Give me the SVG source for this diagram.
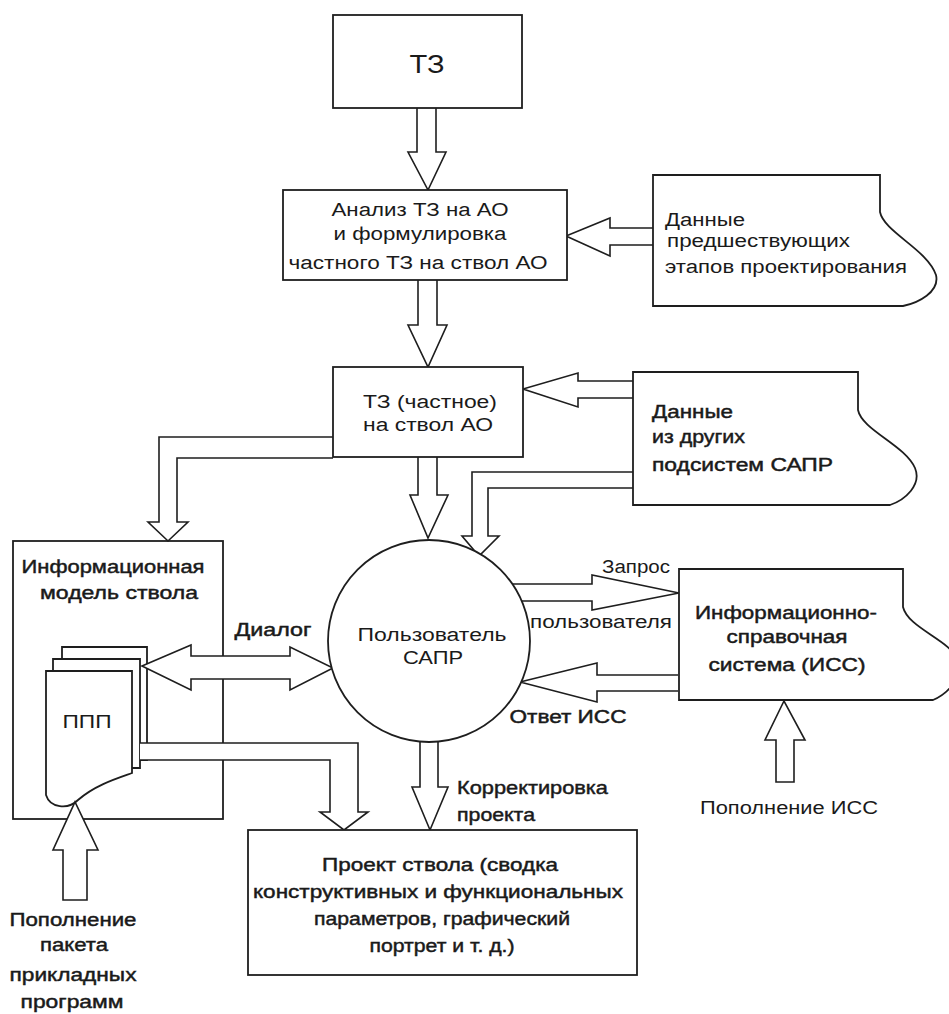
<svg xmlns="http://www.w3.org/2000/svg" width="949" height="1014" viewBox="0 0 949 1014">
<style>
.box{fill:#fff;stroke:#1e1e1e;stroke-width:1.8}
.ar{fill:#fff;stroke:#1e1e1e;stroke-width:1.6;stroke-linejoin:miter}
text{font-family:"Liberation Sans",Arial,sans-serif;font-size:18px;fill:#1a1a1a}
.c{text-anchor:middle}
.b{stroke:#1a1a1a;stroke-width:0.45}
</style>
<rect width="949" height="1014" fill="#fff"/>

<g id="info-model">
<rect class="box" x="13" y="541" width="210" height="278"/>
<text class="c b" x="113" y="573" textLength="183" lengthAdjust="spacingAndGlyphs">Информационная</text>
<text class="c b" x="119" y="599" textLength="158" lengthAdjust="spacingAndGlyphs">модель ствола</text>
</g>

<g id="ppp">
<path class="box" d="M62,659 V647 H147 V760 H140"/>
<path class="box" d="M53,671 V659 H140 V768 H132"/>
<path class="box" d="M46,671 H132 V773 C118,778 95,785 78,800 C68,810 50,808 46,795 Z"/>
<text class="c" x="87" y="728" textLength="49" lengthAdjust="spacingAndGlyphs">ППП</text>
</g>

<g id="connectors">
<path class="ar" d="M417,108 V152 H408 L428,190 L446,152 H436 V108"/>
<path class="ar" d="M418,280 V325 H408 L428,367 L447,325 H437 V280"/>
<path class="ar" d="M418,457 V495 H410 L428,538 L448,495 H437 V457"/>
<path class="ar" d="M654,228 H610 V218 L566,236 L610,256 V245 H654"/>
<path class="ar" d="M633,381 H578 V373 L523,389 L578,407 V398 H633"/>
<path class="ar" d="M333,437 H159 V522 H148 L168,541 L188,522 H177 V458 H333"/>
<path class="ar" d="M633,472 H472 V536 H462 L479,556 L499,536 H488 V488 H633"/>
<path class="ar" d="M142,666 L191,645 V656 H290 V647 L333,668 L290,690 V679 H191 V690 Z"/>
<path class="ar" d="M140,743 H358 V812 H368 L344,830 L320,812 H330 V760 H140"/>
<path class="ar" d="M500,584 H592 V575 L679,593 L592,610 V601 H500"/>
<path class="ar" d="M678,675 H597 V663 L520,682 L597,702 V691 H678"/>
<path class="ar" d="M420,720 V787 H412 L430,830 L448,787 H438 V720"/>
<path class="ar" d="M776,782 V740 H765 L784,701 L805,740 H794 V782 Z"/>
<path class="ar" d="M63,900 V850 H53 L75,802 L98,850 H87 V900 Z"/>
<text class="c b" x="273" y="636" textLength="77" lengthAdjust="spacingAndGlyphs">Диалог</text>
<text class="c" x="636" y="573" textLength="68" lengthAdjust="spacingAndGlyphs">Запрос</text>
<text class="c" x="601" y="628" textLength="142" lengthAdjust="spacingAndGlyphs">пользователя</text>
<text class="c b" x="568" y="723" textLength="117" lengthAdjust="spacingAndGlyphs">Ответ ИСС</text>
<text class="b" x="457" y="794" textLength="151" lengthAdjust="spacingAndGlyphs">Корректировка</text>
<text class="b" x="457" y="821" textLength="78" lengthAdjust="spacingAndGlyphs">проекта</text>
<text class="c" x="789" y="814" textLength="178" lengthAdjust="spacingAndGlyphs">Пополнение ИСС</text>
<text class="c b" x="73" y="926" textLength="127" lengthAdjust="spacingAndGlyphs">Пополнение</text>
<text class="c b" x="74" y="951" textLength="68" lengthAdjust="spacingAndGlyphs">пакета</text>
<text class="c b" x="73" y="981" textLength="127" lengthAdjust="spacingAndGlyphs">прикладных</text>
<text class="c b" x="72" y="1008" textLength="103" lengthAdjust="spacingAndGlyphs">программ</text>
</g>

<g id="tz">
<rect class="box" x="333" y="15" width="189" height="93"/>
<text class="c" x="427" y="73" style="font-size:25px" textLength="35" lengthAdjust="spacingAndGlyphs">ТЗ</text>
</g>

<g id="analysis">
<rect class="box" x="283" y="190" width="284" height="90"/>
<text class="c" x="420" y="216" textLength="177" lengthAdjust="spacingAndGlyphs">Анализ ТЗ на АО</text>
<text class="c" x="420" y="240" textLength="173" lengthAdjust="spacingAndGlyphs">и формулировка</text>
<text class="c" x="418" y="269" textLength="259" lengthAdjust="spacingAndGlyphs">частного ТЗ на ствол АО</text>
</g>

<g id="prev-data">
<path class="box" d="M653,175 H880 V212 C884,232 928,250 936,275 C940,292 918,303 903,306 H653 Z"/>
<text x="665" y="226" textLength="80" lengthAdjust="spacingAndGlyphs">Данные</text>
<text x="667" y="247" textLength="183" lengthAdjust="spacingAndGlyphs">предшествующих</text>
<text x="665" y="273" textLength="242" lengthAdjust="spacingAndGlyphs">этапов проектирования</text>
</g>

<g id="tz-partial">
<rect class="box" x="333" y="367" width="190" height="90"/>
<text class="c" x="430" y="408" textLength="134" lengthAdjust="spacingAndGlyphs">ТЗ (частное)</text>
<text class="c" x="428" y="431" textLength="130" lengthAdjust="spacingAndGlyphs">на ствол АО</text>
</g>

<g id="other-data">
<path class="box" d="M633,372 H858 V410 C862,430 905,445 915,468 C922,485 905,500 890,505 H633 Z"/>
<text class="b" x="652" y="418" textLength="81" lengthAdjust="spacingAndGlyphs">Данные</text>
<text class="b" x="652" y="443" textLength="93" lengthAdjust="spacingAndGlyphs">из других</text>
<text class="b" x="652" y="471" textLength="181" lengthAdjust="spacingAndGlyphs">подсистем САПР</text>
</g>

<g id="user">
<circle class="box" cx="429" cy="641" r="101"/>
<text class="c" x="432" y="641" textLength="149" lengthAdjust="spacingAndGlyphs">Пользователь</text>
<text class="c" x="433" y="664" textLength="60" lengthAdjust="spacingAndGlyphs">САПР</text>
</g>

<g id="iss">
<path class="box" d="M679,569 H903 V607 C908,628 950,640 958,660 C963,680 945,695 933,700 H679 Z"/>
<text class="c b" x="786" y="619" textLength="182" lengthAdjust="spacingAndGlyphs">Информационно-</text>
<text class="c b" x="787" y="643" textLength="121" lengthAdjust="spacingAndGlyphs">справочная</text>
<text class="c b" x="787" y="671" textLength="157" lengthAdjust="spacingAndGlyphs">система (ИСС)</text>
</g>

<g id="project">
<rect class="box" x="248" y="830" width="389" height="145"/>
<text class="c b" x="440" y="871" textLength="236" lengthAdjust="spacingAndGlyphs">Проект ствола (сводка</text>
<text class="c b" x="438" y="898" textLength="370" lengthAdjust="spacingAndGlyphs">конструктивных и функциональных</text>
<text class="c b" x="442" y="925" textLength="256" lengthAdjust="spacingAndGlyphs">параметров, графический</text>
<text class="c b" x="442" y="952" textLength="145" lengthAdjust="spacingAndGlyphs">портрет и т. д.)</text>
</g>
</svg>
